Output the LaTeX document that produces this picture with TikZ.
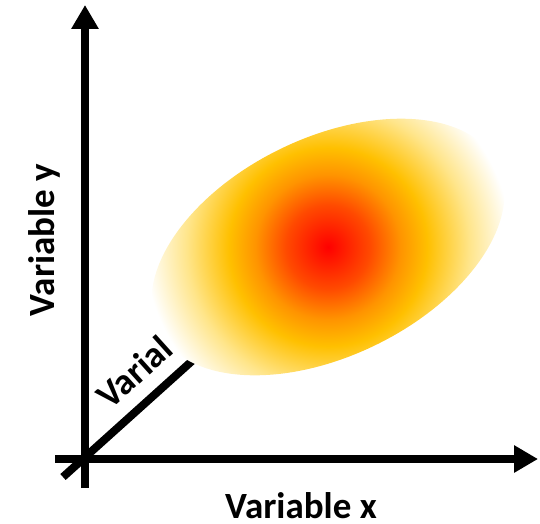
\documentclass[tikz,border=0pt]{standalone}
\usepackage{fontspec}
\setmainfont{Carlito}
\usepackage{tikz}
\usetikzlibrary{arrows.meta, positioning, calc}
\usepackage{xcolor}
\definecolor{hotred}{HTML}{FF0000}
\definecolor{flame}{HTML}{FF4A00}
\definecolor{amber}{HTML}{FF9400}
\definecolor{gold}{HTML}{FFC000}
\definecolor{paleyellow}{HTML}{FFE58A}

\pgfdeclareradialshading{heatblob}{\pgfpoint{0bp}{0bp}}{%
  color(0bp)=(hotred); color(5.5bp)=(flame); color(9.5bp)=(amber);
  color(13bp)=(gold); color(18.5bp)=(paleyellow); color(24bp)=(white);
  color(50bp)=(white)}

\begin{document}
\begin{tikzpicture}[
    x=1pt, y=1pt,
    axis/.style={line width=8pt, -{Triangle[length=24pt, width=26pt]}},
    varlabel/.style={font=\fontsize{37}{44}\selectfont\bfseries, inner sep=0}
]
\useasboundingbox (0,0) rectangle (540,523);

% axes
\coordinate (O) at (85,64);
\coordinate (ybot) at (85,35);
\coordinate (ytip) at (85,518);
\coordinate (xleft) at (55,64);
\coordinate (xtip) at (538,64);
\coordinate (zlow) at (63,46);
\coordinate (zhigh) at (212,180);

\draw[axis] (ybot) -- (ytip);
\draw[axis] (xleft) -- (xtip);
\draw[line width=8pt] (zlow) -- (zhigh);

\node[varlabel, rotate=90, anchor=base] (ylab) at (54,283) {Variable y};
\node[varlabel, anchor=base] (xlab) at (301,5) {Variable x};
\node[varlabel, rotate=42] (zlab) at (134,151) {Varial};

% data cloud
\coordinate (c) at (328,276);
\begin{scope}
  \clip[rotate around={26:(c)}] (c) ellipse (189 and 109);
  \shade[shading=heatblob] (c) circle (191);
\end{scope}
\end{tikzpicture}
\end{document}
